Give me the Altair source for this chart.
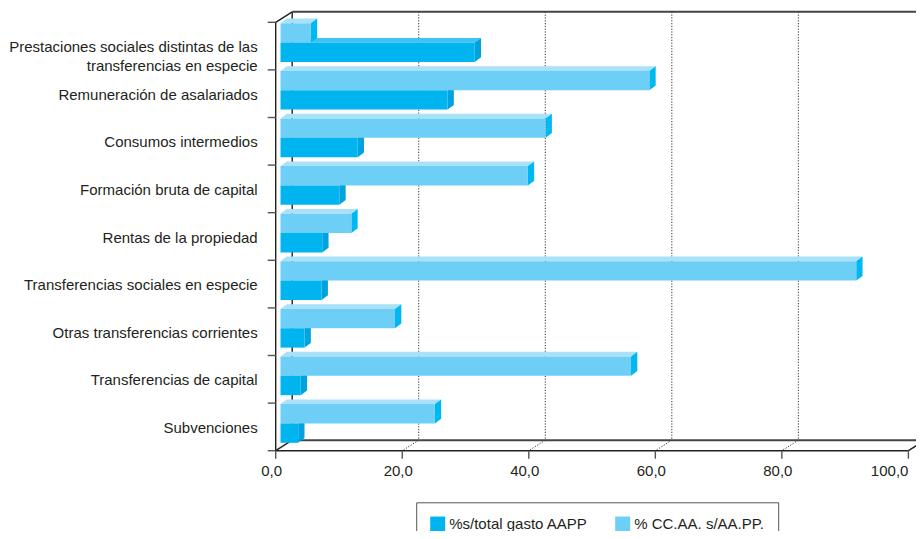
import altair as alt
import pandas as pd

# ---------------- data ----------------
categories = [
    "Prestaciones sociales distintas de las\ntransferencias en especie",
    "Remuneración de asalariados",
    "Consumos intermedios",
    "Formación bruta de capital",
    "Rentas de la propiedad",
    "Transferencias sociales en especie",
    "Otras transferencias corrientes",
    "Transferencias de capital",
    "Subvenciones",
]
pct_total_gasto = [30.7, 26.4, 12.2, 9.3, 6.6, 6.5, 3.8, 3.2, 2.8]   # %s/total gasto AAPP
pct_ccaa = [4.8, 58.3, 41.9, 39.1, 11.2, 91.0, 18.1, 55.4, 24.4]      # % CC.AA. s/AA.PP.
series_names = ["%s/total gasto AAPP", "% CC.AA. s/AA.PP."]
tick_values = [0, 20, 40, 60, 80, 100]
tick_labels = ["0,0", "20,0", "40,0", "60,0", "80,0", "100,0"]

# ---------------- style / layout ----------------
FONT = "Liberation Sans"
TEXT = "#231f20"
FRONT = ["#00b5ef", "#6dcff6"]
TOP = ["#3fc3f1", "#a9e1f9"]
SIDE = ["#00a3df", "#00b8f1"]

W, H = 908, 523          # fits the page without scrollbars / rescaling
PX = 6.327
X0 = 267.7
ROW = 47.6
Y0 = 14.3

xdom = [-X0 / PX, (W - X0) / PX]
ydom = [-Y0 / ROW, (H - Y0) / ROW]
xs = alt.Scale(domain=xdom, nice=False, zero=False)
ys = alt.Scale(domain=ydom, nice=False, zero=False, reverse=True)

WDX, WDY = 16.5 / PX, 10.5 / ROW
BX0 = 4.8 / PX
BDX, BDY = 6.3 / PX, 4.7 / ROW
SLOT = {1: (1.0 / ROW, 20.3 / ROW), 0: (20.3 / ROW, 39.7 / ROW)}
N = len(categories)
XMAX = tick_values[-1]

front, top, side = [], [], []
for i, cat in enumerate(categories):
    for s, vals in ((0, pct_total_gasto), (1, pct_ccaa)):
        v = vals[i]
        yt, yb = i + SLOT[s][0], i + SLOT[s][1]
        x0, x1 = BX0, BX0 + v
        key = f"k{i}s{s}"
        front.append(dict(serie=series_names[s], x=x0, x2=x1, y=yt, y2=yb,
                          categoria=cat.replace("\n", " "), valor=v))
        for px, py, py2 in [(x0, yt, yt), (x0 + BDX, yt, yt - BDY),
                            (x1, yt, yt - BDY), (x1 + BDX, yt - BDY, yt - BDY)]:
            top.append(dict(key=key, s=s, px=px, ya=py, yb=py2))
        for px, py, py2 in [(x1, yt, yb), (x1 + BDX, yt - BDY, yb - BDY)]:
            side.append(dict(key=key, s=s, px=px, ya=py, yb=py2))

front_df = pd.DataFrame(front)
top_df = pd.DataFrame(top)
side_df = pd.DataFrame(side)

solid = [
    (0, 0, 0, N),
    (0, 0, WDX, -WDY),
    (WDX, -WDY, WDX, N - WDY),
    (0, N, WDX, N - WDY),
    (0, N, XMAX, N),
    (XMAX, N, XMAX + WDX, N - WDY),
]
solid_df = pd.DataFrame(solid, columns=["x", "y", "x2", "y2"])
thick = [
    (WDX, N - WDY, XMAX + WDX, N - WDY),
    (WDX, -WDY, XMAX + WDX, -WDY),
]
thick_df = pd.DataFrame(thick, columns=["x", "y", "x2", "y2"])
grid = []
for t in tick_values[1:-1]:
    grid.append((t + WDX, -WDY, t + WDX, N - WDY))
    grid.append((t + WDX, N - WDY, t, N))
grid_df = pd.DataFrame(grid, columns=["x", "y", "x2", "y2"])
ticks = [(-8 / PX, r, 0, r) for r in range(N + 1)]
ticks += [(t, N, t, N + 8 / ROW) for t in tick_values]
ticks_df = pd.DataFrame(ticks, columns=["x", "y", "x2", "y2"])

cat_df = pd.DataFrame({"label": categories, "y": [i + 0.5 for i in range(N)]})
tl_df = pd.DataFrame({"x": tick_values, "label": tick_labels, "y": [N] * len(tick_values)})


def seg_layer(df, **mk):
    return alt.Chart(df).mark_rule(**mk).encode(
        x=alt.X("x:Q", scale=xs, axis=None),
        x2="x2:Q",
        y=alt.Y("y:Q", scale=ys, axis=None),
        y2="y2:Q",
    )


grid_l = seg_layer(grid_df, color="#333", strokeWidth=1, strokeDash=[1.2, 1.6])
solid_l = seg_layer(solid_df, color=TEXT, strokeWidth=1.4)
thick_l = seg_layer(thick_df, color="#444", strokeWidth=2)
ticks_l = seg_layer(ticks_df, color="#555", strokeWidth=1.4)


def face_layer(df, s, color):
    return alt.Chart(df[df.s == s]).mark_area(
        orient="vertical", color=color, opacity=1
    ).encode(
        x=alt.X("px:Q", scale=xs, axis=None),
        y=alt.Y("ya:Q", scale=ys, axis=None),
        y2=alt.Y2("yb:Q"),
        detail="key:N",
    )


top_layers = [face_layer(top_df, s, TOP[s]) for s in (0, 1)]
side_layers = [face_layer(side_df, s, SIDE[s]) for s in (0, 1)]

front_l = alt.Chart(front_df).mark_rect().encode(
    x=alt.X("x:Q", scale=xs, axis=None),
    x2="x2:Q",
    y=alt.Y("y:Q", scale=ys, axis=None),
    y2="y2:Q",
    color=alt.Color(
        "serie:N",
        scale=alt.Scale(domain=series_names, range=FRONT),
        legend=alt.Legend(
            title=None, orient="none", legendX=408.2, legendY=494.3,
            direction="horizontal", padding=14, strokeColor="#555", fillColor="white",
            symbolType="square", symbolSize=225, symbolStrokeWidth=0,
            labelFontSize=15, labelFont=FONT, labelColor=TEXT, labelOffset=4,
            columnPadding=27,
        ),
    ),
    tooltip=["categoria:N", "serie:N", "valor:Q"],
)

cat_l = alt.Chart(cat_df).mark_text(
    align="right", baseline="middle", dx=-18, dy=1, fontSize=15, font=FONT,
    color=TEXT, lineBreak="\n", lineHeight=18.5,
).encode(
    x=alt.value(X0),
    y=alt.Y("y:Q", scale=ys, axis=None),
    text="label:N",
)


def tick_text(df, align, dx):
    return alt.Chart(df).mark_text(
        align=align, baseline="middle", dx=dx, dy=20, fontSize=15, font=FONT, color=TEXT,
    ).encode(
        x=alt.X("x:Q", scale=xs, axis=None),
        y=alt.Y("y:Q", scale=ys, axis=None),
        text="label:N",
    )


tl_l = tick_text(tl_df.iloc[:-1], "center", -4)
tl_last = tick_text(tl_df.iloc[-1:], "right", 0)

chart = alt.layer(
    grid_l, solid_l, thick_l, ticks_l, *top_layers, *side_layers, front_l,
    cat_l, tl_l, tl_last
).properties(
    width=W, height=H, autosize=alt.AutoSizeParams(type="none"), padding=0,
    background="white",
).configure_view(stroke=None)

chart.save("out.html", embed_options={"renderer": "svg", "actions": False})
